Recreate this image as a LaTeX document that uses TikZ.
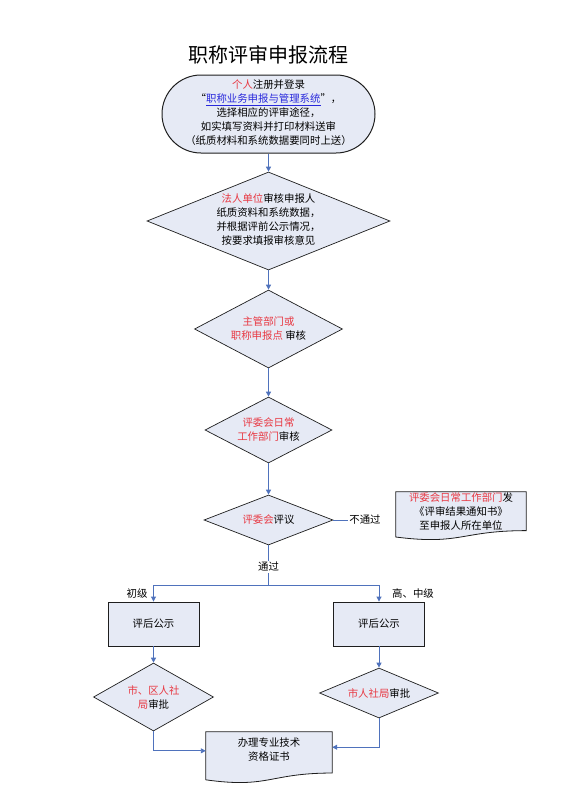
\documentclass[tikz,border=0pt]{standalone}
\usepackage{fontspec}
\setmainfont{Noto Sans CJK SC}
\usetikzlibrary{shapes.geometric,shapes.misc,arrows.meta,calc}
\definecolor{boxfill}{RGB}{230,234,245}
\definecolor{linkblue}{RGB}{40,40,220}
\definecolor{hl}{RGB}{232,56,66}
\definecolor{connc}{RGB}{79,114,188}
\definecolor{edgec}{RGB}{30,30,30}
\newcommand\rd[1]{\textcolor{hl}{#1}}
\newcommand\docpath[1]{\draw[draw=edgec,fill=boxfill,line width=0.8pt] (#1.north west) -- (#1.north east) -- ($(#1.north east)!0.802!(#1.south east)$) .. controls ($(#1.north)!0.802!(#1.south)$) and ($(#1.north)!1.107!(#1.south)$) .. ($(#1.north west)!0.934!(#1.south west)$) -- cycle;}
\begin{document}
\begin{tikzpicture}[x=1pt,y=-1pt,
  txt/.style={align=center,font=\fontsize{10.4}{14}\selectfont,inner sep=0},
  lbl/.style={font=\fontsize{10.4}{14}\selectfont,inner sep=1pt},
  dia/.style={diamond,draw=edgec,fill=boxfill,line width=0.7pt,inner sep=0},
  box/.style={rectangle,draw=edgec,fill=boxfill,line width=0.9pt,minimum width=91pt,minimum height=44pt,inner sep=0},
  conn/.style={draw=connc,line width=0.9pt},
  arr/.style={conn,-{Triangle[length=5pt,width=5pt]}},
  docnode/.style={rectangle,inner sep=0}
]
\useasboundingbox (0,0) rectangle (565,806);
% title
\node[font=\fontsize{20}{24}\selectfont] (title) at (268,55) {职称评审申报流程};
% start terminator
\node[rounded rectangle,draw=edgec,fill=boxfill,line width=1pt,minimum width=213pt,minimum height=78pt,inner sep=0] (start) at (268.5,114) {};
\node[txt] (starttxt) at (268.5,113) {\rd{个人}注册并登录\\“\textcolor{linkblue}{\underline{职称业务申报与管理系统}}”，\\选择相应的评审途径，\\如实填写资料并打印材料送审\\（纸质材料和系统数据要同时上送）};
% diamonds of main column
\node[dia,minimum width=243pt,minimum height=98pt] (d1) at (268.5,221) {};
\node[txt] (d1txt) at (268.5,220) {\rd{法人单位}审核申报人\\纸质资料和系统数据，\\并根据评前公示情况，\\按要求填报审核意见};
\node[dia,minimum width=148pt,minimum height=78pt] (d2) at (268.5,329) {};
\node[txt] (d2txt) at (268.5,329) {\rd{主管部门或}\\\rd{职称申报点}\ 审核};
\node[dia,minimum width=127pt,minimum height=66pt] (d3) at (268.5,430) {};
\node[txt] (d3txt) at (268.5,430) {\rd{评委会日常}\\\rd{工作部门}审核};
\node[dia,minimum width=129pt,minimum height=50pt] (d4) at (268.5,520) {};
\node[txt] (d4txt) at (268.5,520) {\rd{评委会}评议};
% rejection document
\node[docnode,minimum width=130pt,minimum height=48pt] (doc1) at (461,516) {};
\docpath{doc1}
\node[txt] (doc1txt) at (461,511.5) {\rd{评委会日常工作部门}发\\《评审结果通知书》\\至申报人所在单位};
\node[lbl] (nb) at (365,520) {不通过};
% boxes
\node[box] (b1) at (153.5,624) {};
\node[txt] (b1txt) at (b1) {评后公示};
\node[box] (b2) at (379,624) {};
\node[txt] (b2txt) at (b2) {评后公示};
% lower diamonds
\node[dia,minimum width=120pt,minimum height=68pt] (ld) at (153.5,697) {};
\node[txt] (ldtxt) at (153.5,697) {\rd{市、区人社}\\\rd{局}审批};
\node[dia,minimum width=119pt,minimum height=50pt] (rdm) at (379,693) {};
\node[txt] (rdtxt) at (379,693) {\rd{市人社局}审批};
% final document
\node[docnode,minimum width=126pt,minimum height=51pt] (doc2) at (269,757.5) {};
\docpath{doc2}
\node[txt] (doc2txt) at (269,750) {办理专业技术\\资格证书};
% connectors
\draw[arr] (start.south) -- (d1.north);
\draw[arr] (d1.south) -- (d2.north);
\draw[arr] (d2.south) -- (d3.north);
\draw[arr] (d3.south) -- (d4.north);
\draw[conn] (d4.east) -- (nb.west);
\coordinate (sp) at (268.5,585);
\draw[conn] (d4.south) -- (sp);
\node[lbl,fill=white] (pass) at (268.5,567) {通过};
\draw[arr] (sp) -| (b1.north);
\draw[arr] (sp) -| (b2.north);
\node[lbl] (lowlbl) at (137,594) {初级};
\node[lbl] (highlbl) at (413,594) {高、中级};
\draw[arr] (b1.south) -- (ld.north);
\draw[arr] (b2.south) -- (rdm.north);
\draw[arr] (ld.south) |- ($(doc2.north west)!0.37!(doc2.south west)$);
\draw[arr] (rdm.south) |- ($(doc2.north east)!0.30!(doc2.south east)$);
\end{tikzpicture}
\end{document}
